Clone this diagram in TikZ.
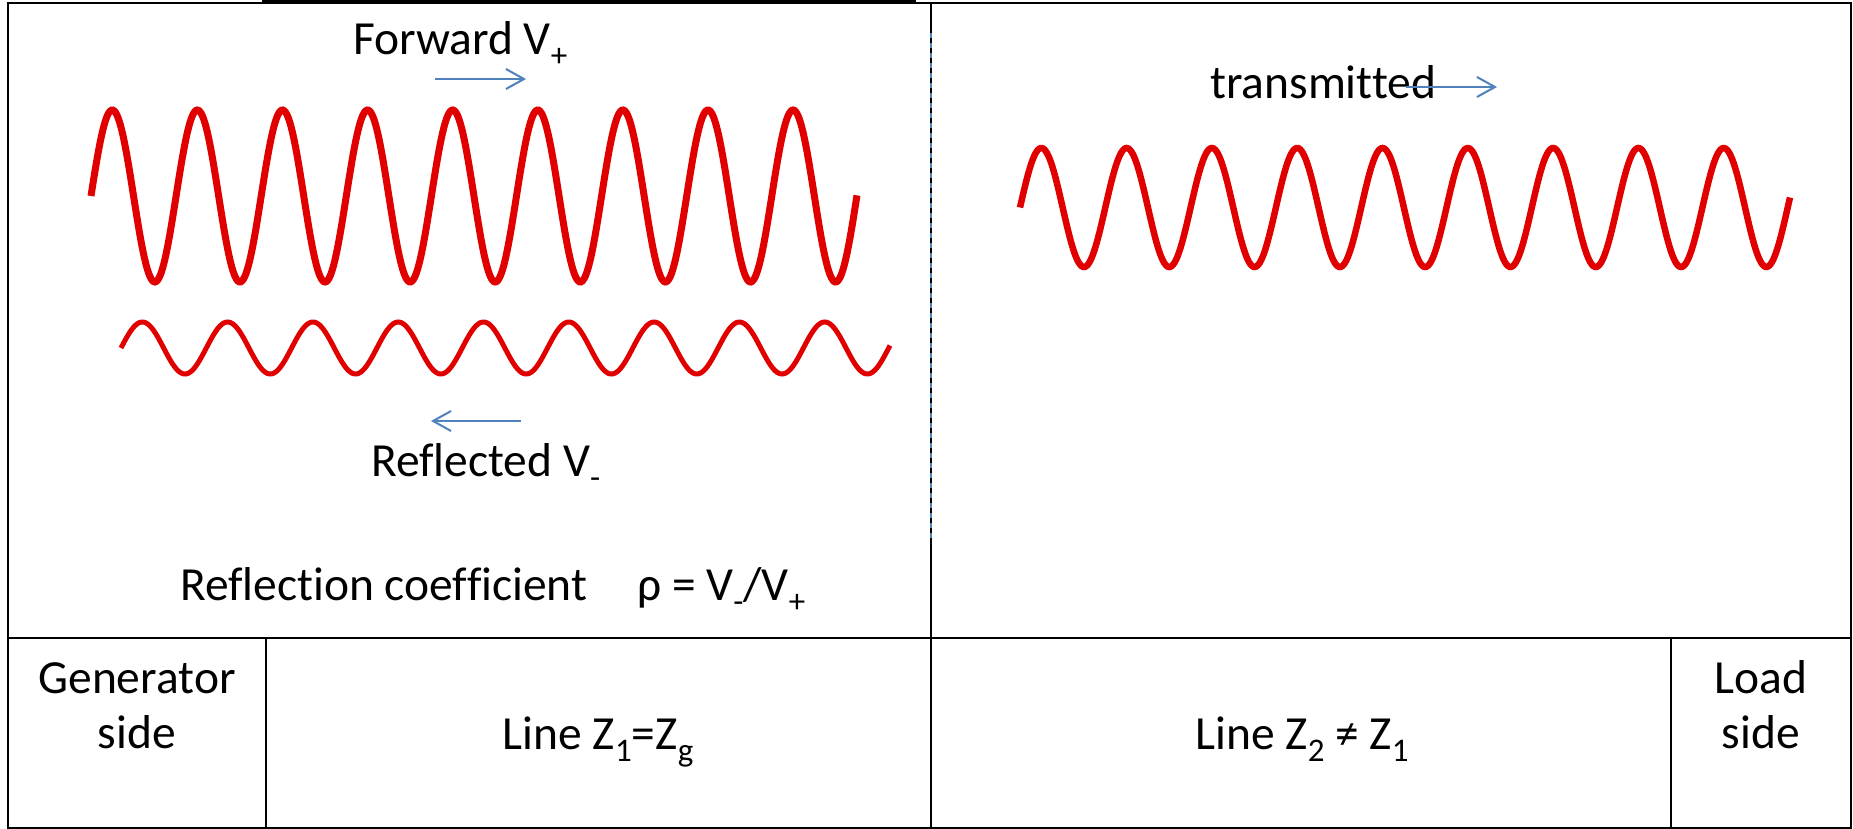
\documentclass[tikz,border=0pt]{standalone}
\usepackage{fontspec}
\setmainfont[Ligatures=NoCommon]{Carlito}
\usetikzlibrary{arrows.meta}
\definecolor{wavered}{RGB}{224,0,0}
\definecolor{arrowblue}{RGB}{79,129,189}
\newcommand{\lowsub}[1]{\raisebox{-12pt}{\fontsize{33}{33}\selectfont #1}}
\begin{document}
\begin{tikzpicture}[x=1pt,y=-1pt,
  frame/.style={line width=2.5pt, black},
  wave/.style={wavered, line width=7pt},
  thinwave/.style={wavered, line width=5pt},
  arr/.style={arrowblue, line width=2pt, -{Straight Barb[length=18pt,width=20pt,line width=2pt]}},
  lbl/.style={inner sep=0pt, anchor=base west, font=\fontsize{47.5}{55}\selectfont},
  clbl/.style={inner sep=0pt, anchor=base, font=\fontsize{47.5}{55}\selectfont},
]
\useasboundingbox (0,0) rectangle (1853,829);
% frame / table lines
\draw[frame] (8,3) rectangle (1851,828);
\draw[black, line width=4pt] (262,2) -- (916,2);
\draw[frame] (8,638) -- (1851,638);
\draw[frame] (266,638) -- (266,828);
\draw[frame] (1671,638) -- (1671,828);
\draw[black, line width=2.5pt] (931,3) -- (931,828);
\draw[arrowblue, line width=2pt, dash pattern=on 5pt off 5pt] (931,33) -- (931,543);
% waves
\draw[wave] plot[domain=91:857, samples=600] (\x, {196-86*sin((\x-91)/85.1*360)});
\draw[thinwave] plot[domain=121:890, samples=600] (\x, {348-26*sin((\x-121)/85.3*360)});
\draw[wave, line width=6.5pt] plot[domain=1020:1790, samples=600] (\x, {207.5-59.5*sin((\x-1020)/85.3*360)});
% labels
\node[lbl] (fwd) at (353,55) {Forward V\lowsub{+}};
\node[lbl] (trans) at (1210,99) {transmitted};
\node[lbl] (refl) at (371,476) {Reflected V\lowsub{-}};
\node[lbl] (rc) at (180,600) {Reflection coefficient};
\node[lbl] (rho) at (637,600) {ρ = V\lowsub{-}/V\lowsub{+}};
\node[clbl] (gen1) at (137,693) {Generator};
\node[clbl] (gen2) at (137,748) {side};
\node[clbl] (line1) at (598,749) {Line Z\lowsub{1}=Z\lowsub{g}};
\node[clbl] (line2) at (1302,749) {Line Z\lowsub{2} ≠ Z\lowsub{1}};
\node[clbl] (load1) at (1761,693) {Load};
\node[clbl] (load2) at (1761,748) {side};
% arrows
\coordinate (fa1) at (435,79); \coordinate (fa2) at (526,79);
\draw[arr] (fa1) -- (fa2);
\coordinate (ta1) at (1406,87); \coordinate (ta2) at (1497,87);
\draw[arr] (ta1) -- (ta2);
\coordinate (ra1) at (521,421); \coordinate (ra2) at (431,421);
\draw[arr] (ra1) -- (ra2);
\end{tikzpicture}
\end{document}
